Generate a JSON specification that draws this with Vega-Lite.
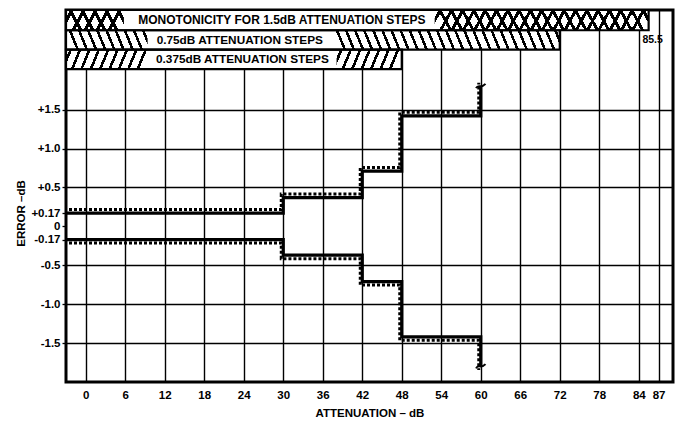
{
 "$schema": "https://vega.github.io/schema/vega-lite/v6.json",
 "width": 607,
 "height": 372,
 "autosize": {"type": "none"},
 "padding": {"left": 66, "top": 10, "right": 10, "bottom": 39},
 "background": "white",
 "config": {
  "view": {"stroke": "#000", "strokeWidth": 3},
  "axis": {"labelFont": "Liberation Sans", "labelFontWeight": "bold", "labelFontSize": 11.5, "labelColor": "#000", "titleFont": "Liberation Sans", "titleFontWeight": "bold", "titleFontSize": 11.5, "titleColor": "#000", "domain": false, "gridColor": "#000", "gridWidth": 1.4, "gridOpacity": 1}
 },
 "datasets": {
  "bands": [
   {"row": 1, "att": -3, "att2": 85.5, "err": 2.52, "err2": 2.78},
   {"row": 2, "att": -3, "att2": 72, "err": 2.27, "err2": 2.52},
   {"row": 3, "att": -3, "att2": 48, "err": 2.02, "err2": 2.27}
  ],
  "hatch": [
   {"seg": "r1L", "att": -3, "att2": 5.8, "err": 2.52, "err2": 2.78},
   {"seg": "r1R", "att": 53, "att2": 85.5, "err": 2.52, "err2": 2.78},
   {"seg": "r2L", "att": -3, "att2": 9.4, "err": 2.27, "err2": 2.52},
   {"seg": "r2R", "att": 37.5, "att2": 72, "err": 2.27, "err2": 2.52},
   {"seg": "r3L", "att": -3, "att2": 9.7, "err": 2.02, "err2": 2.27},
   {"seg": "r3R", "att": 38.1, "att2": 48, "err": 2.02, "err2": 2.27}
  ],
  "labels": [
   {"label": "MONOTONICITY FOR  1.5dB ATTENUATION STEPS", "att": 29.8, "err": 2.65, "size": 12},
   {"label": "0.75dB ATTENUATION STEPS", "att": 23.4, "err": 2.395, "size": 11.8},
   {"label": "0.375dB ATTENUATION STEPS", "att": 23.8, "err": 2.145, "size": 11.8}
  ],
  "note": [
   {"label": "85.5", "att": 85.5, "err": 2.395}
  ],
  "limits": [
   {"bound": "upper", "att": -3, "err": 0.17},
   {"bound": "upper", "att": 30, "err": 0.37},
   {"bound": "upper", "att": 42, "err": 0.71},
   {"bound": "upper", "att": 48, "err": 1.42},
   {"bound": "upper", "att": 60, "err": 1.8},
   {"bound": "lower", "att": -3, "err": -0.17},
   {"bound": "lower", "att": 30, "err": -0.37},
   {"bound": "lower", "att": 42, "err": -0.71},
   {"bound": "lower", "att": 48, "err": -1.42},
   {"bound": "lower", "att": 60, "err": -1.8}
  ]
 },
 "layer": [
  {
   "data": {"name": "limits"},
   "mark": {"type": "line", "interpolate": "step-after", "strokeWidth": 3.2, "color": "#000", "clip": true},
   "encoding": {
    "x": {"field": "att", "type": "quantitative", "title": "ATTENUATION – dB", "scale": {"domain": [-3, 89.2], "nice": false, "zero": false},
      "axis": {"values": [0, 6, 12, 18, 24, 30, 36, 42, 48, 54, 60, 66, 72, 78, 84, 87], "grid": true, "ticks": false, "labelPadding": 7, "labelFlush": false, "labelOverlap": false, "titlePadding": 7}},
    "y": {"field": "err", "type": "quantitative", "title": "ERROR –dB", "scale": {"domain": [-2, 2.78], "nice": false, "zero": false},
      "axis": {"values": [-1.5, -1, -0.5, -0.17, 0, 0.17, 0.5, 1, 1.5], "grid": true, "gridOpacity": {"condition": {"test": "abs(datum.value) < 0.3", "value": 0}, "value": 1}, "ticks": true, "tickSize": 4, "tickColor": "#000", "tickWidth": 1.3, "labelPadding": 2, "labelOverlap": false, "labelFlush": false,
        "labelExpr": "datum.value > 0 ? '+' + format(datum.value, datum.value == 0.17 ? '.2f' : '.1f') : (datum.value == 0 ? '0' : '-' + format(-datum.value, datum.value == -0.17 ? '.2f' : '.1f'))",
        "titleX": -40, "titleY": 203}},
    "detail": {"field": "bound"}
   }
  },
  {
   "mark": {"type": "rule", "strokeDash": [7, 5], "strokeWidth": 1.6, "color": "#000"},
   "encoding": {"y": {"datum": 0, "type": "quantitative"}}
  },
  {
   "data": {"name": "bands"},
   "mark": {"type": "rect", "fill": "#fff", "strokeWidth": 0},
   "encoding": {
    "x": {"field": "att", "type": "quantitative", "title": "ATTENUATION – dB"}, "x2": {"field": "att2"},
    "y": {"field": "err", "type": "quantitative", "title": "ERROR –dB"}, "y2": {"field": "err2"}
   }
  },
  {
   "data": {"name": "hatch"},
   "transform": [{"filter": "datum.seg == 'r1L'"}],
   "mark": {"type": "rect", "strokeWidth": 0, "fill": {"gradient": "linear", "x1": 0, "y1": 0, "x2": 1, "y2": 0.19, "stops": [
     {"offset":0.07,"color":"rgba(0,0,0,0)"},{"offset":0.07,"color":"#000"},{"offset":0.13,"color":"#000"},{"offset":0.13,"color":"rgba(0,0,0,0)"},
     {"offset":0.27,"color":"rgba(0,0,0,0)"},{"offset":0.27,"color":"#000"},{"offset":0.33,"color":"#000"},{"offset":0.33,"color":"rgba(0,0,0,0)"},
     {"offset":0.47,"color":"rgba(0,0,0,0)"},{"offset":0.47,"color":"#000"},{"offset":0.53,"color":"#000"},{"offset":0.53,"color":"rgba(0,0,0,0)"},
     {"offset":0.67,"color":"rgba(0,0,0,0)"},{"offset":0.67,"color":"#000"},{"offset":0.73,"color":"#000"},{"offset":0.73,"color":"rgba(0,0,0,0)"},
     {"offset":0.87,"color":"rgba(0,0,0,0)"},{"offset":0.87,"color":"#000"},{"offset":0.93,"color":"#000"},{"offset":0.93,"color":"rgba(0,0,0,0)"}]}},
   "encoding": {
    "x": {"field": "att", "type": "quantitative", "title": "ATTENUATION – dB"}, "x2": {"field": "att2"},
    "y": {"field": "err", "type": "quantitative", "title": "ERROR –dB"}, "y2": {"field": "err2"}
   }
  },
  {
   "data": {"name": "hatch"},
   "transform": [{"filter": "datum.seg == 'r1L'"}],
   "mark": {"type": "rect", "strokeWidth": 0, "fill": {"gradient": "linear", "x1": 0, "y1": 0.19, "x2": 1, "y2": 0, "stops": [
     {"offset":0.07,"color":"rgba(0,0,0,0)"},{"offset":0.07,"color":"#000"},{"offset":0.13,"color":"#000"},{"offset":0.13,"color":"rgba(0,0,0,0)"},
     {"offset":0.27,"color":"rgba(0,0,0,0)"},{"offset":0.27,"color":"#000"},{"offset":0.33,"color":"#000"},{"offset":0.33,"color":"rgba(0,0,0,0)"},
     {"offset":0.47,"color":"rgba(0,0,0,0)"},{"offset":0.47,"color":"#000"},{"offset":0.53,"color":"#000"},{"offset":0.53,"color":"rgba(0,0,0,0)"},
     {"offset":0.67,"color":"rgba(0,0,0,0)"},{"offset":0.67,"color":"#000"},{"offset":0.73,"color":"#000"},{"offset":0.73,"color":"rgba(0,0,0,0)"},
     {"offset":0.87,"color":"rgba(0,0,0,0)"},{"offset":0.87,"color":"#000"},{"offset":0.93,"color":"#000"},{"offset":0.93,"color":"rgba(0,0,0,0)"}]}},
   "encoding": {
    "x": {"field": "att", "type": "quantitative", "title": "ATTENUATION – dB"}, "x2": {"field": "att2"},
    "y": {"field": "err", "type": "quantitative", "title": "ERROR –dB"}, "y2": {"field": "err2"}
   }
  },
  {
   "data": {"name": "hatch"},
   "transform": [{"filter": "datum.seg == 'r1R'"}],
   "mark": {"type": "rect", "strokeWidth": 0, "fill": {"gradient": "linear", "x1": 0, "y1": 0, "x2": 1, "y2": 0.051, "stops": [
     {"offset":0.0184,"color":"rgba(0,0,0,0)"},{"offset":0.0184,"color":"#000"},{"offset":0.0342,"color":"#000"},{"offset":0.0342,"color":"rgba(0,0,0,0)"},
     {"offset":0.0711,"color":"rgba(0,0,0,0)"},{"offset":0.0711,"color":"#000"},{"offset":0.0868,"color":"#000"},{"offset":0.0868,"color":"rgba(0,0,0,0)"},
     {"offset":0.1237,"color":"rgba(0,0,0,0)"},{"offset":0.1237,"color":"#000"},{"offset":0.1395,"color":"#000"},{"offset":0.1395,"color":"rgba(0,0,0,0)"},
     {"offset":0.1763,"color":"rgba(0,0,0,0)"},{"offset":0.1763,"color":"#000"},{"offset":0.1921,"color":"#000"},{"offset":0.1921,"color":"rgba(0,0,0,0)"},
     {"offset":0.2289,"color":"rgba(0,0,0,0)"},{"offset":0.2289,"color":"#000"},{"offset":0.2447,"color":"#000"},{"offset":0.2447,"color":"rgba(0,0,0,0)"},
     {"offset":0.2816,"color":"rgba(0,0,0,0)"},{"offset":0.2816,"color":"#000"},{"offset":0.2974,"color":"#000"},{"offset":0.2974,"color":"rgba(0,0,0,0)"},
     {"offset":0.3342,"color":"rgba(0,0,0,0)"},{"offset":0.3342,"color":"#000"},{"offset":0.35,"color":"#000"},{"offset":0.35,"color":"rgba(0,0,0,0)"},
     {"offset":0.3868,"color":"rgba(0,0,0,0)"},{"offset":0.3868,"color":"#000"},{"offset":0.4026,"color":"#000"},{"offset":0.4026,"color":"rgba(0,0,0,0)"},
     {"offset":0.4395,"color":"rgba(0,0,0,0)"},{"offset":0.4395,"color":"#000"},{"offset":0.4553,"color":"#000"},{"offset":0.4553,"color":"rgba(0,0,0,0)"},
     {"offset":0.4921,"color":"rgba(0,0,0,0)"},{"offset":0.4921,"color":"#000"},{"offset":0.5079,"color":"#000"},{"offset":0.5079,"color":"rgba(0,0,0,0)"},
     {"offset":0.5447,"color":"rgba(0,0,0,0)"},{"offset":0.5447,"color":"#000"},{"offset":0.5605,"color":"#000"},{"offset":0.5605,"color":"rgba(0,0,0,0)"},
     {"offset":0.5974,"color":"rgba(0,0,0,0)"},{"offset":0.5974,"color":"#000"},{"offset":0.6132,"color":"#000"},{"offset":0.6132,"color":"rgba(0,0,0,0)"},
     {"offset":0.65,"color":"rgba(0,0,0,0)"},{"offset":0.65,"color":"#000"},{"offset":0.6658,"color":"#000"},{"offset":0.6658,"color":"rgba(0,0,0,0)"},
     {"offset":0.7026,"color":"rgba(0,0,0,0)"},{"offset":0.7026,"color":"#000"},{"offset":0.7184,"color":"#000"},{"offset":0.7184,"color":"rgba(0,0,0,0)"},
     {"offset":0.7553,"color":"rgba(0,0,0,0)"},{"offset":0.7553,"color":"#000"},{"offset":0.7711,"color":"#000"},{"offset":0.7711,"color":"rgba(0,0,0,0)"},
     {"offset":0.8079,"color":"rgba(0,0,0,0)"},{"offset":0.8079,"color":"#000"},{"offset":0.8237,"color":"#000"},{"offset":0.8237,"color":"rgba(0,0,0,0)"},
     {"offset":0.8605,"color":"rgba(0,0,0,0)"},{"offset":0.8605,"color":"#000"},{"offset":0.8763,"color":"#000"},{"offset":0.8763,"color":"rgba(0,0,0,0)"},
     {"offset":0.9132,"color":"rgba(0,0,0,0)"},{"offset":0.9132,"color":"#000"},{"offset":0.9289,"color":"#000"},{"offset":0.9289,"color":"rgba(0,0,0,0)"},
     {"offset":0.9658,"color":"rgba(0,0,0,0)"},{"offset":0.9658,"color":"#000"},{"offset":0.9816,"color":"#000"},{"offset":0.9816,"color":"rgba(0,0,0,0)"}]}},
   "encoding": {
    "x": {"field": "att", "type": "quantitative", "title": "ATTENUATION – dB"}, "x2": {"field": "att2"},
    "y": {"field": "err", "type": "quantitative", "title": "ERROR –dB"}, "y2": {"field": "err2"}
   }
  },
  {
   "data": {"name": "hatch"},
   "transform": [{"filter": "datum.seg == 'r1R'"}],
   "mark": {"type": "rect", "strokeWidth": 0, "fill": {"gradient": "linear", "x1": 0, "y1": 0.051, "x2": 1, "y2": 0, "stops": [
     {"offset":0.0184,"color":"rgba(0,0,0,0)"},{"offset":0.0184,"color":"#000"},{"offset":0.0342,"color":"#000"},{"offset":0.0342,"color":"rgba(0,0,0,0)"},
     {"offset":0.0711,"color":"rgba(0,0,0,0)"},{"offset":0.0711,"color":"#000"},{"offset":0.0868,"color":"#000"},{"offset":0.0868,"color":"rgba(0,0,0,0)"},
     {"offset":0.1237,"color":"rgba(0,0,0,0)"},{"offset":0.1237,"color":"#000"},{"offset":0.1395,"color":"#000"},{"offset":0.1395,"color":"rgba(0,0,0,0)"},
     {"offset":0.1763,"color":"rgba(0,0,0,0)"},{"offset":0.1763,"color":"#000"},{"offset":0.1921,"color":"#000"},{"offset":0.1921,"color":"rgba(0,0,0,0)"},
     {"offset":0.2289,"color":"rgba(0,0,0,0)"},{"offset":0.2289,"color":"#000"},{"offset":0.2447,"color":"#000"},{"offset":0.2447,"color":"rgba(0,0,0,0)"},
     {"offset":0.2816,"color":"rgba(0,0,0,0)"},{"offset":0.2816,"color":"#000"},{"offset":0.2974,"color":"#000"},{"offset":0.2974,"color":"rgba(0,0,0,0)"},
     {"offset":0.3342,"color":"rgba(0,0,0,0)"},{"offset":0.3342,"color":"#000"},{"offset":0.35,"color":"#000"},{"offset":0.35,"color":"rgba(0,0,0,0)"},
     {"offset":0.3868,"color":"rgba(0,0,0,0)"},{"offset":0.3868,"color":"#000"},{"offset":0.4026,"color":"#000"},{"offset":0.4026,"color":"rgba(0,0,0,0)"},
     {"offset":0.4395,"color":"rgba(0,0,0,0)"},{"offset":0.4395,"color":"#000"},{"offset":0.4553,"color":"#000"},{"offset":0.4553,"color":"rgba(0,0,0,0)"},
     {"offset":0.4921,"color":"rgba(0,0,0,0)"},{"offset":0.4921,"color":"#000"},{"offset":0.5079,"color":"#000"},{"offset":0.5079,"color":"rgba(0,0,0,0)"},
     {"offset":0.5447,"color":"rgba(0,0,0,0)"},{"offset":0.5447,"color":"#000"},{"offset":0.5605,"color":"#000"},{"offset":0.5605,"color":"rgba(0,0,0,0)"},
     {"offset":0.5974,"color":"rgba(0,0,0,0)"},{"offset":0.5974,"color":"#000"},{"offset":0.6132,"color":"#000"},{"offset":0.6132,"color":"rgba(0,0,0,0)"},
     {"offset":0.65,"color":"rgba(0,0,0,0)"},{"offset":0.65,"color":"#000"},{"offset":0.6658,"color":"#000"},{"offset":0.6658,"color":"rgba(0,0,0,0)"},
     {"offset":0.7026,"color":"rgba(0,0,0,0)"},{"offset":0.7026,"color":"#000"},{"offset":0.7184,"color":"#000"},{"offset":0.7184,"color":"rgba(0,0,0,0)"},
     {"offset":0.7553,"color":"rgba(0,0,0,0)"},{"offset":0.7553,"color":"#000"},{"offset":0.7711,"color":"#000"},{"offset":0.7711,"color":"rgba(0,0,0,0)"},
     {"offset":0.8079,"color":"rgba(0,0,0,0)"},{"offset":0.8079,"color":"#000"},{"offset":0.8237,"color":"#000"},{"offset":0.8237,"color":"rgba(0,0,0,0)"},
     {"offset":0.8605,"color":"rgba(0,0,0,0)"},{"offset":0.8605,"color":"#000"},{"offset":0.8763,"color":"#000"},{"offset":0.8763,"color":"rgba(0,0,0,0)"},
     {"offset":0.9132,"color":"rgba(0,0,0,0)"},{"offset":0.9132,"color":"#000"},{"offset":0.9289,"color":"#000"},{"offset":0.9289,"color":"rgba(0,0,0,0)"},
     {"offset":0.9658,"color":"rgba(0,0,0,0)"},{"offset":0.9658,"color":"#000"},{"offset":0.9816,"color":"#000"},{"offset":0.9816,"color":"rgba(0,0,0,0)"}]}},
   "encoding": {
    "x": {"field": "att", "type": "quantitative", "title": "ATTENUATION – dB"}, "x2": {"field": "att2"},
    "y": {"field": "err", "type": "quantitative", "title": "ERROR –dB"}, "y2": {"field": "err2"}
   }
  },
  {
   "data": {"name": "hatch"},
   "transform": [{"filter": "datum.seg == 'r2L'"}],
   "mark": {"type": "rect", "strokeWidth": 0, "fill": {"gradient": "linear", "x1": 0, "y1": 0.098, "x2": 1, "y2": 0, "stops": [
     {"offset":0.0389,"color":"rgba(0,0,0,0)"},{"offset":0.0389,"color":"#000"},{"offset":0.0722,"color":"#000"},{"offset":0.0722,"color":"rgba(0,0,0,0)"},
     {"offset":0.15,"color":"rgba(0,0,0,0)"},{"offset":0.15,"color":"#000"},{"offset":0.1833,"color":"#000"},{"offset":0.1833,"color":"rgba(0,0,0,0)"},
     {"offset":0.2611,"color":"rgba(0,0,0,0)"},{"offset":0.2611,"color":"#000"},{"offset":0.2944,"color":"#000"},{"offset":0.2944,"color":"rgba(0,0,0,0)"},
     {"offset":0.3722,"color":"rgba(0,0,0,0)"},{"offset":0.3722,"color":"#000"},{"offset":0.4056,"color":"#000"},{"offset":0.4056,"color":"rgba(0,0,0,0)"},
     {"offset":0.4833,"color":"rgba(0,0,0,0)"},{"offset":0.4833,"color":"#000"},{"offset":0.5167,"color":"#000"},{"offset":0.5167,"color":"rgba(0,0,0,0)"},
     {"offset":0.5944,"color":"rgba(0,0,0,0)"},{"offset":0.5944,"color":"#000"},{"offset":0.6278,"color":"#000"},{"offset":0.6278,"color":"rgba(0,0,0,0)"},
     {"offset":0.7056,"color":"rgba(0,0,0,0)"},{"offset":0.7056,"color":"#000"},{"offset":0.7389,"color":"#000"},{"offset":0.7389,"color":"rgba(0,0,0,0)"},
     {"offset":0.8167,"color":"rgba(0,0,0,0)"},{"offset":0.8167,"color":"#000"},{"offset":0.85,"color":"#000"},{"offset":0.85,"color":"rgba(0,0,0,0)"},
     {"offset":0.9278,"color":"rgba(0,0,0,0)"},{"offset":0.9278,"color":"#000"},{"offset":0.9611,"color":"#000"},{"offset":0.9611,"color":"rgba(0,0,0,0)"}]}},
   "encoding": {
    "x": {"field": "att", "type": "quantitative", "title": "ATTENUATION – dB"}, "x2": {"field": "att2"},
    "y": {"field": "err", "type": "quantitative", "title": "ERROR –dB"}, "y2": {"field": "err2"}
   }
  },
  {
   "data": {"name": "hatch"},
   "transform": [{"filter": "datum.seg == 'r2R'"}],
   "mark": {"type": "rect", "strokeWidth": 0, "fill": {"gradient": "linear", "x1": 0, "y1": 0.035, "x2": 1, "y2": 0, "stops": [
     {"offset":0.014,"color":"rgba(0,0,0,0)"},{"offset":0.014,"color":"#000"},{"offset":0.026,"color":"#000"},{"offset":0.026,"color":"rgba(0,0,0,0)"},
     {"offset":0.054,"color":"rgba(0,0,0,0)"},{"offset":0.054,"color":"#000"},{"offset":0.066,"color":"#000"},{"offset":0.066,"color":"rgba(0,0,0,0)"},
     {"offset":0.094,"color":"rgba(0,0,0,0)"},{"offset":0.094,"color":"#000"},{"offset":0.106,"color":"#000"},{"offset":0.106,"color":"rgba(0,0,0,0)"},
     {"offset":0.134,"color":"rgba(0,0,0,0)"},{"offset":0.134,"color":"#000"},{"offset":0.146,"color":"#000"},{"offset":0.146,"color":"rgba(0,0,0,0)"},
     {"offset":0.174,"color":"rgba(0,0,0,0)"},{"offset":0.174,"color":"#000"},{"offset":0.186,"color":"#000"},{"offset":0.186,"color":"rgba(0,0,0,0)"},
     {"offset":0.214,"color":"rgba(0,0,0,0)"},{"offset":0.214,"color":"#000"},{"offset":0.226,"color":"#000"},{"offset":0.226,"color":"rgba(0,0,0,0)"},
     {"offset":0.254,"color":"rgba(0,0,0,0)"},{"offset":0.254,"color":"#000"},{"offset":0.266,"color":"#000"},{"offset":0.266,"color":"rgba(0,0,0,0)"},
     {"offset":0.294,"color":"rgba(0,0,0,0)"},{"offset":0.294,"color":"#000"},{"offset":0.306,"color":"#000"},{"offset":0.306,"color":"rgba(0,0,0,0)"},
     {"offset":0.334,"color":"rgba(0,0,0,0)"},{"offset":0.334,"color":"#000"},{"offset":0.346,"color":"#000"},{"offset":0.346,"color":"rgba(0,0,0,0)"},
     {"offset":0.374,"color":"rgba(0,0,0,0)"},{"offset":0.374,"color":"#000"},{"offset":0.386,"color":"#000"},{"offset":0.386,"color":"rgba(0,0,0,0)"},
     {"offset":0.414,"color":"rgba(0,0,0,0)"},{"offset":0.414,"color":"#000"},{"offset":0.426,"color":"#000"},{"offset":0.426,"color":"rgba(0,0,0,0)"},
     {"offset":0.454,"color":"rgba(0,0,0,0)"},{"offset":0.454,"color":"#000"},{"offset":0.466,"color":"#000"},{"offset":0.466,"color":"rgba(0,0,0,0)"},
     {"offset":0.494,"color":"rgba(0,0,0,0)"},{"offset":0.494,"color":"#000"},{"offset":0.506,"color":"#000"},{"offset":0.506,"color":"rgba(0,0,0,0)"},
     {"offset":0.534,"color":"rgba(0,0,0,0)"},{"offset":0.534,"color":"#000"},{"offset":0.546,"color":"#000"},{"offset":0.546,"color":"rgba(0,0,0,0)"},
     {"offset":0.574,"color":"rgba(0,0,0,0)"},{"offset":0.574,"color":"#000"},{"offset":0.586,"color":"#000"},{"offset":0.586,"color":"rgba(0,0,0,0)"},
     {"offset":0.614,"color":"rgba(0,0,0,0)"},{"offset":0.614,"color":"#000"},{"offset":0.626,"color":"#000"},{"offset":0.626,"color":"rgba(0,0,0,0)"},
     {"offset":0.654,"color":"rgba(0,0,0,0)"},{"offset":0.654,"color":"#000"},{"offset":0.666,"color":"#000"},{"offset":0.666,"color":"rgba(0,0,0,0)"},
     {"offset":0.694,"color":"rgba(0,0,0,0)"},{"offset":0.694,"color":"#000"},{"offset":0.706,"color":"#000"},{"offset":0.706,"color":"rgba(0,0,0,0)"},
     {"offset":0.734,"color":"rgba(0,0,0,0)"},{"offset":0.734,"color":"#000"},{"offset":0.746,"color":"#000"},{"offset":0.746,"color":"rgba(0,0,0,0)"},
     {"offset":0.774,"color":"rgba(0,0,0,0)"},{"offset":0.774,"color":"#000"},{"offset":0.786,"color":"#000"},{"offset":0.786,"color":"rgba(0,0,0,0)"},
     {"offset":0.814,"color":"rgba(0,0,0,0)"},{"offset":0.814,"color":"#000"},{"offset":0.826,"color":"#000"},{"offset":0.826,"color":"rgba(0,0,0,0)"},
     {"offset":0.854,"color":"rgba(0,0,0,0)"},{"offset":0.854,"color":"#000"},{"offset":0.866,"color":"#000"},{"offset":0.866,"color":"rgba(0,0,0,0)"},
     {"offset":0.894,"color":"rgba(0,0,0,0)"},{"offset":0.894,"color":"#000"},{"offset":0.906,"color":"#000"},{"offset":0.906,"color":"rgba(0,0,0,0)"},
     {"offset":0.934,"color":"rgba(0,0,0,0)"},{"offset":0.934,"color":"#000"},{"offset":0.946,"color":"#000"},{"offset":0.946,"color":"rgba(0,0,0,0)"},
     {"offset":0.974,"color":"rgba(0,0,0,0)"},{"offset":0.974,"color":"#000"},{"offset":0.986,"color":"#000"},{"offset":0.986,"color":"rgba(0,0,0,0)"}]}},
   "encoding": {
    "x": {"field": "att", "type": "quantitative", "title": "ATTENUATION – dB"}, "x2": {"field": "att2"},
    "y": {"field": "err", "type": "quantitative", "title": "ERROR –dB"}, "y2": {"field": "err2"}
   }
  },
  {
   "data": {"name": "hatch"},
   "transform": [{"filter": "datum.seg == 'r3L'"}],
   "mark": {"type": "rect", "strokeWidth": 0, "fill": {"gradient": "linear", "x1": 0, "y1": 0, "x2": 1, "y2": 0.096, "stops": [
     {"offset":0.0389,"color":"rgba(0,0,0,0)"},{"offset":0.0389,"color":"#000"},{"offset":0.0722,"color":"#000"},{"offset":0.0722,"color":"rgba(0,0,0,0)"},
     {"offset":0.15,"color":"rgba(0,0,0,0)"},{"offset":0.15,"color":"#000"},{"offset":0.1833,"color":"#000"},{"offset":0.1833,"color":"rgba(0,0,0,0)"},
     {"offset":0.2611,"color":"rgba(0,0,0,0)"},{"offset":0.2611,"color":"#000"},{"offset":0.2944,"color":"#000"},{"offset":0.2944,"color":"rgba(0,0,0,0)"},
     {"offset":0.3722,"color":"rgba(0,0,0,0)"},{"offset":0.3722,"color":"#000"},{"offset":0.4056,"color":"#000"},{"offset":0.4056,"color":"rgba(0,0,0,0)"},
     {"offset":0.4833,"color":"rgba(0,0,0,0)"},{"offset":0.4833,"color":"#000"},{"offset":0.5167,"color":"#000"},{"offset":0.5167,"color":"rgba(0,0,0,0)"},
     {"offset":0.5944,"color":"rgba(0,0,0,0)"},{"offset":0.5944,"color":"#000"},{"offset":0.6278,"color":"#000"},{"offset":0.6278,"color":"rgba(0,0,0,0)"},
     {"offset":0.7056,"color":"rgba(0,0,0,0)"},{"offset":0.7056,"color":"#000"},{"offset":0.7389,"color":"#000"},{"offset":0.7389,"color":"rgba(0,0,0,0)"},
     {"offset":0.8167,"color":"rgba(0,0,0,0)"},{"offset":0.8167,"color":"#000"},{"offset":0.85,"color":"#000"},{"offset":0.85,"color":"rgba(0,0,0,0)"},
     {"offset":0.9278,"color":"rgba(0,0,0,0)"},{"offset":0.9278,"color":"#000"},{"offset":0.9611,"color":"#000"},{"offset":0.9611,"color":"rgba(0,0,0,0)"}]}},
   "encoding": {
    "x": {"field": "att", "type": "quantitative", "title": "ATTENUATION – dB"}, "x2": {"field": "att2"},
    "y": {"field": "err", "type": "quantitative", "title": "ERROR –dB"}, "y2": {"field": "err2"}
   }
  },
  {
   "data": {"name": "hatch"},
   "transform": [{"filter": "datum.seg == 'r3R'"}],
   "mark": {"type": "rect", "strokeWidth": 0, "fill": {"gradient": "linear", "x1": 0, "y1": 0, "x2": 1, "y2": 0.123, "stops": [
     {"offset":0.05,"color":"rgba(0,0,0,0)"},{"offset":0.05,"color":"#000"},{"offset":0.0929,"color":"#000"},{"offset":0.0929,"color":"rgba(0,0,0,0)"},
     {"offset":0.1929,"color":"rgba(0,0,0,0)"},{"offset":0.1929,"color":"#000"},{"offset":0.2357,"color":"#000"},{"offset":0.2357,"color":"rgba(0,0,0,0)"},
     {"offset":0.3357,"color":"rgba(0,0,0,0)"},{"offset":0.3357,"color":"#000"},{"offset":0.3786,"color":"#000"},{"offset":0.3786,"color":"rgba(0,0,0,0)"},
     {"offset":0.4786,"color":"rgba(0,0,0,0)"},{"offset":0.4786,"color":"#000"},{"offset":0.5214,"color":"#000"},{"offset":0.5214,"color":"rgba(0,0,0,0)"},
     {"offset":0.6214,"color":"rgba(0,0,0,0)"},{"offset":0.6214,"color":"#000"},{"offset":0.6643,"color":"#000"},{"offset":0.6643,"color":"rgba(0,0,0,0)"},
     {"offset":0.7643,"color":"rgba(0,0,0,0)"},{"offset":0.7643,"color":"#000"},{"offset":0.8071,"color":"#000"},{"offset":0.8071,"color":"rgba(0,0,0,0)"},
     {"offset":0.9071,"color":"rgba(0,0,0,0)"},{"offset":0.9071,"color":"#000"},{"offset":0.95,"color":"#000"},{"offset":0.95,"color":"rgba(0,0,0,0)"}]}},
   "encoding": {
    "x": {"field": "att", "type": "quantitative", "title": "ATTENUATION – dB"}, "x2": {"field": "att2"},
    "y": {"field": "err", "type": "quantitative", "title": "ERROR –dB"}, "y2": {"field": "err2"}
   }
  },
  {
   "data": {"name": "bands"},
   "mark": {"type": "rect", "fill": null, "fillOpacity": 0, "stroke": "#000", "strokeWidth": 2.2},
   "encoding": {
    "x": {"field": "att", "type": "quantitative", "title": "ATTENUATION – dB"}, "x2": {"field": "att2"},
    "y": {"field": "err", "type": "quantitative", "title": "ERROR –dB"}, "y2": {"field": "err2"}
   }
  },
  {
   "data": {"name": "labels"},
   "mark": {"type": "text", "font": "Liberation Sans", "fontWeight": "bold", "color": "#000", "align": "center", "baseline": "middle"},
   "encoding": {
    "x": {"field": "att", "type": "quantitative", "title": "ATTENUATION – dB"},
    "y": {"field": "err", "type": "quantitative", "title": "ERROR –dB"},
    "text": {"field": "label"},
    "size": {"field": "size", "type": "quantitative", "scale": null, "legend": null}
   }
  },
  {
   "data": {"name": "note"},
   "mark": {"type": "text", "font": "Liberation Sans", "fontWeight": "bold", "fontSize": 10.5, "color": "#000", "align": "center", "baseline": "middle", "dx": 4},
   "encoding": {
    "x": {"field": "att", "type": "quantitative", "title": "ATTENUATION – dB"},
    "y": {"field": "err", "type": "quantitative", "title": "ERROR –dB"},
    "text": {"field": "label"}
   }
  },
  {
   "data": {"name": "limits"},
   "transform": [{"filter": "datum.bound == 'upper'"}],
   "mark": {"type": "line", "interpolate": "step-after", "strokeWidth": 3, "strokeDash": [3, 2], "color": "#000", "xOffset": -2, "yOffset": -3.5, "clip": true},
   "encoding": {
    "x": {"field": "att", "type": "quantitative", "title": "ATTENUATION – dB"},
    "y": {"field": "err", "type": "quantitative", "title": "ERROR –dB"}
   }
  },
  {
   "data": {"name": "limits"},
   "transform": [{"filter": "datum.bound == 'lower'"}],
   "mark": {"type": "line", "interpolate": "step-after", "strokeWidth": 3, "strokeDash": [3, 2], "color": "#000", "xOffset": -2, "yOffset": 3.5, "clip": true},
   "encoding": {
    "x": {"field": "att", "type": "quantitative", "title": "ATTENUATION – dB"},
    "y": {"field": "err", "type": "quantitative", "title": "ERROR –dB"}
   }
  },
  {
   "data": {"name": "limits"},
   "transform": [{"filter": "datum.att == 60"}],
   "mark": {"type": "point", "shape": "M -1 0.4 C -0.5 -0.6 0 0.6 1 -0.5", "filled": false, "stroke": "#000", "strokeWidth": 2, "size": 90, "opacity": 1},
   "encoding": {
    "x": {"field": "att", "type": "quantitative", "title": "ATTENUATION – dB"},
    "y": {"field": "err", "type": "quantitative", "title": "ERROR –dB"}
   }
  }
 ]
}
